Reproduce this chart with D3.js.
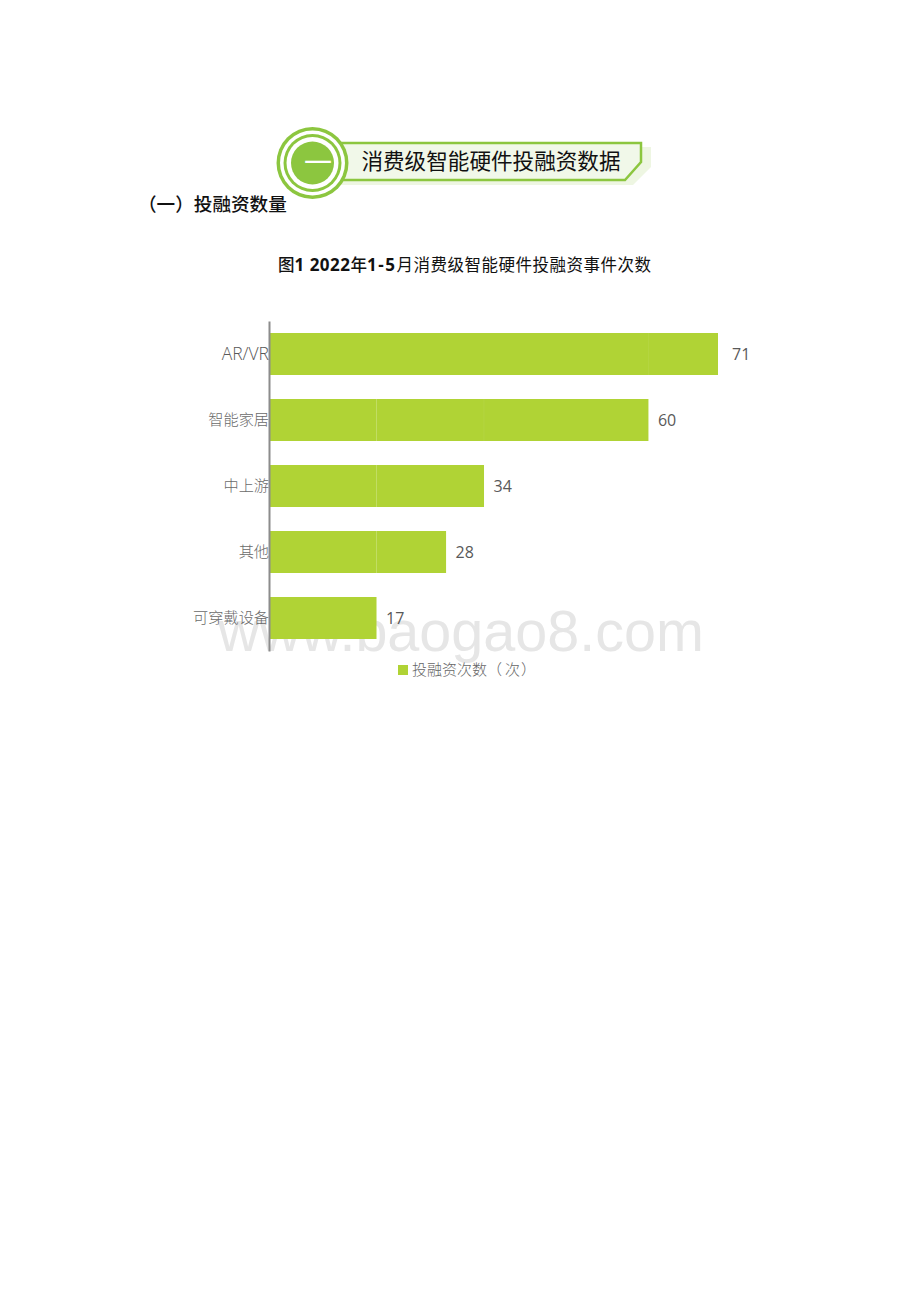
<!DOCTYPE html>
<html><head><meta charset="utf-8">
<script src="https://cdn.jsdelivr.net/npm/d3@7"></script>
<style>html,body{margin:0;padding:0;background:#fff}svg{display:block}</style>
</head><body><svg id="c" width="920" height="1302"></svg>
<script>
const categories = ["AR/VR","智能家居","中上游","其他","可穿戴设备"];
const values = [71,60,34,28,17];
const seams = [[],[17],[17],[17],[]];
const faintSeams = [[60],[34],[],[],[]];
const seriesName = "投融资次数（次）";
const bannerTitle = "消费级智能硬件投融资数据";
const bannerNumeral = "一";
const sectionTitle = "（一）投融资数量";
const CJK = "'Noto Sans CJK SC'";
const svg = d3.select("#c");

// watermark behind the chart
svg.append("text").attr("x",218).attr("y",651).attr("font-family","'Liberation Sans'")
  .attr("font-size",57.5).attr("fill","#e6e6e6").text("www.baogao8.com");

// banner
const b = svg.append("g");
b.append("path").attr("d","M340 147H651V167L633 185H340Z").attr("fill","#eef6e2");
b.append("path").attr("d","M340 143H641V162L625 180H340Z").attr("fill","#f1f8e9").attr("stroke","#8cc63f").attr("stroke-width",2.5);
[[36,"#8cc63f"],[32.5,"#fff"],[29,"#8cc63f"],[26,"#fff"],[21.5,"#8cc63f"]].forEach(([r,f])=>{
  b.append("circle").attr("cx",312.5).attr("cy",163).attr("r",r).attr("fill",f);
});
b.append("text").attr("x",318).attr("y",173).attr("text-anchor","middle").attr("font-family",CJK)
  .attr("font-size",28).attr("fill","#fff").text(bannerNumeral);
b.append("text").attr("x",491).attr("y",169).attr("text-anchor","middle").attr("font-family",CJK)
  .attr("font-size",21.6).attr("fill","#111").text(bannerTitle);

svg.append("text").attr("x",138).attr("y",211).attr("font-family",CJK).attr("font-size",18.6)
  .attr("font-weight",500).attr("fill","#111").text(sectionTitle);

// figure title
const t = svg.append("text").attr("x",278).attr("y",271).attr("font-size",16.5).attr("fill","#111").attr("font-family",CJK);
t.append("tspan").attr("font-weight",500).text("图");
t.append("tspan").attr("font-family","'Open Sans'").attr("font-size",17).attr("letter-spacing","0.5").attr("font-weight",700).text("1 2022");
t.append("tspan").attr("font-weight",500).text("年");
t.append("tspan").attr("font-family","'Open Sans'").attr("font-size",17).attr("letter-spacing","1.5").attr("font-weight",700).text("1-5");
t.append("tspan").attr("letter-spacing","0.5").text("月消费级智能硬件投融资事件次数");

// chart
const x = d3.scaleLinear().domain([0,71]).range([269,718]);
const y = d3.scaleBand().domain(categories).range([321,651]).paddingInner(24/66).paddingOuter(12/66);
const color = "#b0d335";
const rows = categories.map((c,i)=>({c,v:values[i],s:seams[i],f:faintSeams[i]}));
const g = svg.append("g");
g.selectAll("rect.bar").data(rows).join("rect").attr("class","bar")
  .attr("x",x(0)).attr("y",d=>y(d.c)).attr("width",d=>x(d.v)-x(0)).attr("height",y.bandwidth()).attr("fill",color);
rows.forEach(d=>{
  [[d.s,"#c5e070"],[d.f,"#b5d645"]].forEach(([list,col])=>{
    g.selectAll(null).data(list).join("line")
      .attr("x1",v=>x(v)).attr("x2",v=>x(v)).attr("y1",y(d.c)).attr("y2",y(d.c)+y.bandwidth())
      .attr("stroke",col).attr("stroke-width",0.8);
  });
});
g.selectAll("text.val").data(rows).join("text").attr("class","val")
  .attr("x",d=>x(d.v)+(d.v===71?14:9.5)).attr("y",d=>y(d.c)+y.bandwidth()/2+6)
  .attr("font-family","'Open Sans'").attr("font-size",16).attr("fill","#595959").text(d=>d.v);

const yAxis = d3.axisLeft(y).tickSize(0).tickPadding(0);
const ax = svg.append("g").attr("transform","translate(269,0)").call(yAxis);
ax.select(".domain").attr("stroke","#8c8c8c").attr("stroke-width",2);
ax.selectAll("text").attr("font-family",d=>d==="AR/VR"?"'Open Sans'":CJK).attr("font-size",d=>d==="AR/VR"?17.5:15.2)
  .attr("font-weight",300).attr("fill",d=>d==="AR/VR"?"#595959":"#6a6a6a").attr("dy","0.32em");

// legend
svg.append("rect").attr("x",398).attr("y",665).attr("width",10).attr("height",10).attr("fill",color);
svg.append("text").attr("x",412).attr("y",675).attr("dx","0 0 0 0 0 0 3 1").attr("font-family",CJK).attr("font-size",15)
  .attr("font-weight",300).attr("fill","#666").text(seriesName);
</script></body></html>
